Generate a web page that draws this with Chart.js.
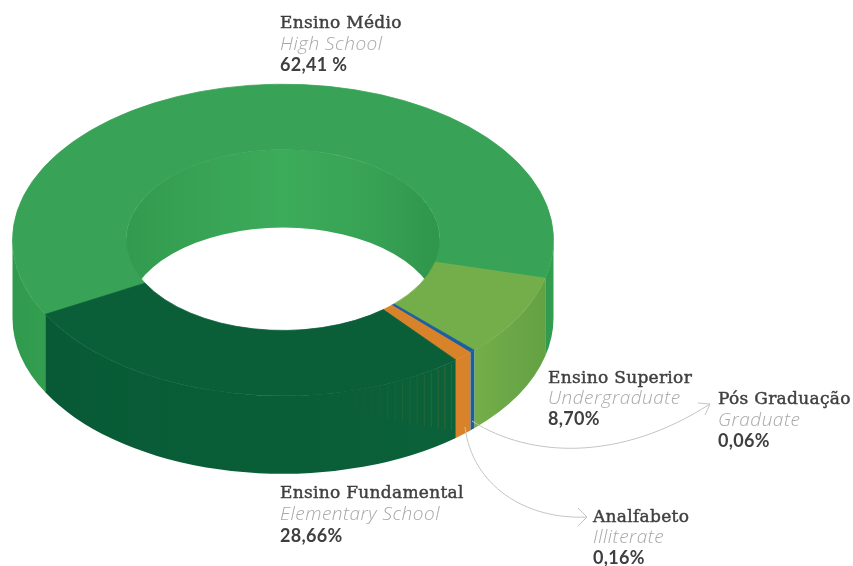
<!DOCTYPE html>
<html lang="pt-BR">
<head>
<meta charset="utf-8">
<title>Escolaridade</title>
<script src="https://cdn.jsdelivr.net/npm/chart.js@4"></script>
<style>
html,body{margin:0;padding:0;background:#fff;}
canvas{display:block;}
</style>
</head>
<body>
<canvas id="grafico" width="853" height="566"></canvas>
<script>
// Categorias e textos do gráfico
const categorias = ['Ensino Médio','Ensino Superior','Pós Graduação','Analfabeto','Ensino Fundamental'];
const categoriasEn = ['High School','Undergraduate','Graduate','Illiterate','Elementary School'];
const percentuais = ['62,41 %','8,70%','0,06%','0,16%','28,66%'];
// Fatias como aparecem na figura (as finas são desenhadas mais largas que o percentual)
const fatias = [61.86, 8.56, 0.32, 1.15, 28.11];

const cores = ['#38a356','#74ae4a','#1b5f9f','#d8822a','#0a5f38'];
// cor da parede externa: esquerda -> direita
const coresParede = [
    ['#2f994d','#349e50'],
    ['#74ae4a','#63a143'],
    ['#1b5f9f','#1b5f9f'],
    ['#d8822a','#d8822a'],
    ['#075a35','#0b6139']
];

// Onde fica cada texto (x e linhas de base)
const posTextos = [
    [280,28,50,71],
    [548,383,404,425],
    [718,404,426,447],
    [593,522,543,564],
    [280,498,520,542]
];

const ACHATA = 0.576;   // elipse do topo
const CENTRO_Y = 240;
const ALTURA = 78;      // altura do anel em px na tela

// Riscos finos que a figura tem na parede escura, perto da faixa laranja
function desenharRiscos(ctx, x, y, R, prof){
    ctx.save();
    ctx.strokeStyle = '#c77d2a';
    ctx.lineWidth = 0.8;
    const passos = 16;
    for(let i=0;i<passos;i++){
        const t = i/passos;
        const a = (51.5 + t*28)*Math.PI/180;
        const px = x + R*Math.cos(a);
        const py = y + R*Math.sin(a) + 3;
        ctx.globalAlpha = 0.36*(1-t);
        ctx.beginPath();
        ctx.moveTo(px,py);
        ctx.lineTo(px,py + prof*(0.85-0.75*t));
        ctx.stroke();
    }
    ctx.restore();
}

// Paredes externas e interna, antes das fatias do topo
function desenharParedes(ctx, chart){
    const arcos = chart.getDatasetMeta(0).data;
    const prof = ALTURA / ACHATA;
    const {x, y, innerRadius} = arcos[0];

    // parede interna (só a metade de trás aparece no furo)
    const gi = ctx.createLinearGradient(x-innerRadius,0,x+innerRadius,0);
    gi.addColorStop(0,'#319a4e');
    gi.addColorStop(0.25,'#38a355');
    gi.addColorStop(0.5,'#3cab5a');
    gi.addColorStop(0.75,'#38a355');
    gi.addColorStop(1,'#2f964c');
    ctx.beginPath();
    ctx.arc(x,y,innerRadius,Math.PI,2*Math.PI);
    ctx.arc(x,y+prof,innerRadius,2*Math.PI,Math.PI,true);
    ctx.closePath();
    ctx.fillStyle = gi;
    ctx.fill();

    // parede externa, só a parte da frente de cada fatia
    arcos.forEach((arco,i)=>{
        [0,2*Math.PI].forEach(volta=>{
            const a0 = Math.max(arco.startAngle, volta);
            const a1 = Math.min(arco.endAngle, volta+Math.PI);
            if(a1 <= a0) return;
            const R = arco.outerRadius;
            const x0 = x + R*Math.cos(a0);
            const x1 = x + R*Math.cos(a1);
            const g = ctx.createLinearGradient(Math.min(x0,x1),0,Math.max(x0,x1),0);
            g.addColorStop(0,coresParede[i][0]);
            g.addColorStop(1,coresParede[i][1]);
            ctx.beginPath();
            ctx.arc(x,y,R,a0,a1);
            ctx.arc(x,y+prof,R,a1,a0,true);
            ctx.closePath();
            ctx.fillStyle = g;
            ctx.fill();
        });
    });
    desenharRiscos(ctx,x,y,arcos[0].outerRadius,prof);
}

// Anel 3D: achata o desenho da rosca e põe as paredes por baixo
const anel3d = {
    id:'anel3d',
    beforeDatasetsDraw(chart){
        const ctx = chart.ctx;
        const y = chart.getDatasetMeta(0).data[0].y;
        ctx.save();
        ctx.translate(0,CENTRO_Y);
        ctx.scale(1,ACHATA);
        ctx.translate(0,-y);
        desenharParedes(ctx,chart);
    },
    afterDatasetsDraw(chart){
        chart.ctx.restore();
    }
};

function seta(ctx, p0, c1, c2, p1, b1, b2){
    ctx.beginPath();
    ctx.moveTo(p0[0],p0[1]);
    ctx.bezierCurveTo(c1[0],c1[1],c2[0],c2[1],p1[0],p1[1]);
    ctx.moveTo(b1[0],b1[1]);
    ctx.lineTo(p1[0],p1[1]);
    ctx.lineTo(b2[0],b2[1]);
    ctx.stroke();
}

// Rótulos e setas
const rotulos = {
    id:'rotulos',
    afterDraw(chart){
        const ctx = chart.ctx;
        ctx.save();
        ctx.strokeStyle = '#c4c4c4';
        ctx.lineWidth = 1;
        seta(ctx,[472,421],[530,458],[620,462],[710,404],[698,403],[705,415]);
        seta(ctx,[465,427],[472,485],[525,520],[587,517],[578,508],[578,526]);

        ctx.textBaseline = 'alphabetic';
        categorias.forEach((nome,i)=>{
            const [x,y1,y2,y3] = posTextos[i];
            ctx.fillStyle = '#3f3f41';
            ctx.strokeStyle = '#3f3f41';
            ctx.lineWidth = 0.45;
            ctx.font = '17px "DejaVu Serif"';
            ctx.letterSpacing = '0.3px';
            ctx.fillText(nome,x,y1);
            ctx.strokeText(nome,x,y1);   // engrossa um pouco o título
            ctx.fillStyle = '#a5a7aa';
            ctx.font = 'italic 300 19px "Open Sans"';
            ctx.letterSpacing = '0.5px';
            ctx.fillText(categoriasEn[i],x,y2);
            ctx.fillStyle = '#3f3f41';
            ctx.font = '700 18px Lato';
            ctx.letterSpacing = '0.3px';
            ctx.fillText(percentuais[i],x,y3);
        });
        ctx.restore();
    }
};

new Chart(document.getElementById('grafico'),{
    type:'doughnut',
    data:{
        labels:categorias,
        datasets:[{
            data:fatias,
            backgroundColor:cores,
            borderColor:cores,
            borderWidth:1
        }]
    },
    options:{
        responsive:false,
        animation:false,
        rotation:241.5,
        cutout:157,
        layout:{padding:{left:12,right:299,top:12,bottom:12}},
        plugins:{legend:{display:false},tooltip:{enabled:false}}
    },
    plugins:[anel3d,rotulos]
});
</script>
</body>
</html>
